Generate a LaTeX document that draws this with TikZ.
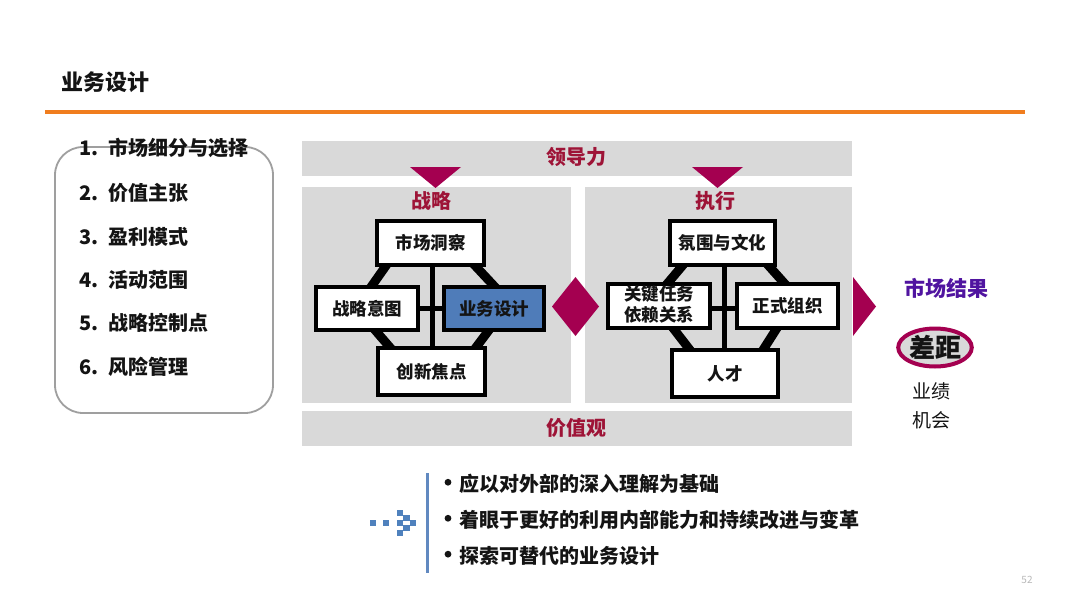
\documentclass[tikz,border=0pt]{standalone}
\usepackage{fontspec}
\setmainfont{Noto Sans CJK SC}
\usetikzlibrary{shapes.geometric}
\definecolor{bandgray}{RGB}{217,217,217}
\definecolor{crim}{RGB}{158,20,55}
\definecolor{mag}{RGB}{164,0,80}
\definecolor{orng}{RGB}{240,125,30}
\definecolor{bizblue}{RGB}{79,124,185}
\definecolor{purp}{RGB}{80,20,160}
\definecolor{dotblue}{RGB}{79,129,189}
\definecolor{txt}{RGB}{20,20,20}
\newcommand{\bdot}{\makebox[22pt][c]{\raisebox{0.3em}{\tikz\fill[txt] (0,0) circle (3.4pt);}}}
\begin{document}
\begin{tikzpicture}[x=1pt,y=-1pt,
 every node/.style={inner sep=0pt, outer sep=0pt, text=txt},
 cbox/.style={draw=black, line width=3.5pt, fill=white, font=\fontsize{17.5}{20.5}\selectfont\bfseries, align=center},
 link/.style={line width=9pt, black, shorten <=-4pt, shorten >=-4pt},
 bar/.style={line width=5pt, black},
 band/.style={fill=bandgray},
 redtxt/.style={text=crim, font=\fontsize{20}{24}\selectfont\bfseries},
 item/.style={anchor=west, font=\fontsize{20}{24}\selectfont\bfseries},
 bul/.style={anchor=west, font=\fontsize{20}{24}\selectfont\bfseries},
 sq/.style={fill=dotblue},
 tri/.style={fill=mag}]
\useasboundingbox (0,0) rectangle (1080,608);
\fill[white] (0,0) rectangle (1080,608);

% title
\node[anchor=west, font=\fontsize{22}{26}\selectfont\bfseries] (title) at (61,82) {业务设计};
\draw[orng, line width=4pt] (45,112) -- (1025,112);

% left list
\draw[gray!75, line width=1.8pt, rounded corners=28pt] (55,147) rectangle (273,413);
\node[item] (i1) at (79,148) {\makebox[29pt][l]{1.}市场细分与选择};
\node[item] (i2) at (79,193) {\makebox[29pt][l]{2.}价值主张};
\node[item] (i3) at (79,237) {\makebox[29pt][l]{3.}盈利模式};
\node[item] (i4) at (79,280) {\makebox[29pt][l]{4.}活动范围};
\node[item] (i5) at (79,323) {\makebox[29pt][l]{5.}战略控制点};
\node[item] (i6) at (79,367) {\makebox[29pt][l]{6.}风险管理};

% bands and panels
\fill[band] (302,141) rectangle (852,176);
\fill[band] (302,411) rectangle (852,446);
\fill[band] (302,187) rectangle (571,403);
\fill[band] (585,187) rectangle (852,403);
\node[redtxt] (lead) at (576,157) {领导力};
\node[redtxt] (val) at (576,428) {价值观};
\node[redtxt] (strat) at (431,201) {战略};
\node[redtxt] (exec) at (715,201) {执行};

% triangles and diamond
\fill[tri] (410,167) -- (461,167) -- (435.5,188) -- cycle;
\fill[tri] (692,167) -- (743,167) -- (717.5,188) -- cycle;
\fill[tri] (552,306.5) -- (575.5,277) -- (599,306.5) -- (575.5,336) -- cycle;
\fill[tri] (853,277) -- (876,306.5) -- (853,336) -- cycle;

% left cluster
\node[cbox, minimum width=107, minimum height=44] (T) at (430.5,243) {市场洞察};
\node[cbox, minimum width=102, minimum height=43] (L) at (367,308.5) {战略意图};
\node[cbox, minimum width=100, minimum height=43, fill=bizblue] (B) at (494,308.5) {业务设计};
\node[cbox, minimum width=107, minimum height=47] (D) at (431.5,371.5) {创新焦点};
% right cluster
\node[cbox, minimum width=105, minimum height=44] (T2) at (722.5,243) {氛围与文化};
\node[cbox, minimum width=102, minimum height=44] (L2) at (659,306) {};
\node[cbox, minimum width=101, minimum height=44] (R2) at (787.5,306) {正式组织};
\node[cbox, minimum width=106, minimum height=47] (D2) at (725,373.5) {人才};

% connectors (drawn, then boxes redrawn on top)
\draw[link] ([xshift=-44]T.south) -- ([xshift=4]L.north);
\draw[link] ([xshift=44]T.south) -- ([xshift=1]B.north);
\draw[link] ([xshift=8]L.south) -- ([xshift=-41]D.north);
\draw[link] ([xshift=-5]B.south) -- ([xshift=44]D.north);
\draw[bar] ([xshift=1.5]T.south) -- ([xshift=0.5]D.north);
\draw[bar] (L.east) -- (B.west);
\draw[link] ([xshift=-39.5]T2.south) -- ([xshift=8]L2.north);
\draw[link] ([xshift=45.5]T2.south) -- ([xshift=-2.5]R2.north);
\draw[link] ([xshift=14]L2.south) -- ([xshift=-35]D2.north);
\draw[link] ([xshift=-10.5]R2.south) -- ([xshift=38]D2.north);
\draw[bar] ([xshift=1.5]T2.south) -- ([xshift=-1]D2.north);
\draw[bar] ([yshift=-2]L2.east) -- ([yshift=-2]R2.west);

% redraw boxes on top of the connectors
\node[cbox, minimum width=107, minimum height=44] at (T) {市场洞察};
\node[cbox, minimum width=102, minimum height=43] at (L) {战略意图};
\node[cbox, minimum width=100, minimum height=43, fill=bizblue] at (B) {业务设计};
\node[cbox, minimum width=107, minimum height=47] at (D) {创新焦点};
\node[cbox, minimum width=105, minimum height=44] at (T2) {氛围与文化};
\node[cbox, minimum width=102, minimum height=44] at (L2) {};
\node[cbox, minimum width=101, minimum height=44] at (R2) {正式组织};
\node[cbox, minimum width=106, minimum height=47] at (D2) {人才};
\node[font=\fontsize{17.5}{20.5}\selectfont\bfseries, align=center] (L2t) at (659,304.5) {关键任务\\依赖关系};

% market result
\node[text=purp, font=\fontsize{21}{25}\selectfont\bfseries] (res) at (946,288) {市场结果};
\node[ellipse, draw=mag, line width=4pt, fill=bandgray, minimum width=70, minimum height=38, font=\fontsize{26}{30}\selectfont\bfseries] (gap) at (935,347.5) {差距};
\node[font=\fontsize{19}{22}\selectfont] (perf) at (931,391) {业绩};
\node[font=\fontsize{19}{22}\selectfont] (opp) at (931,420) {机会};

% bottom bullets
\draw[bizblue!90, line width=3pt] (427,473) -- (427,573);
\node[bul] (b1) at (437,484) {\bdot 应以对外部的深入理解为基础};
\node[bul] (b2) at (437,520) {\bdot 着眼于更好的利用内部能力和持续改进与变革};
\node[bul] (b3) at (437,556) {\bdot 探索可替代的业务设计};

% dotted arrow
\foreach \p in {(373,523),(386,523),(400,513),(400,523),(400,533),(406.5,518),(406.5,528),(413,523)}
  \fill[sq] \p ++(-3.2,-3.2) rectangle ++(6.4,6.4);

\node[text=gray!55, font=\fontsize{10}{12}\selectfont] (pg) at (1027,580) {52};
\end{tikzpicture}
\end{document}
